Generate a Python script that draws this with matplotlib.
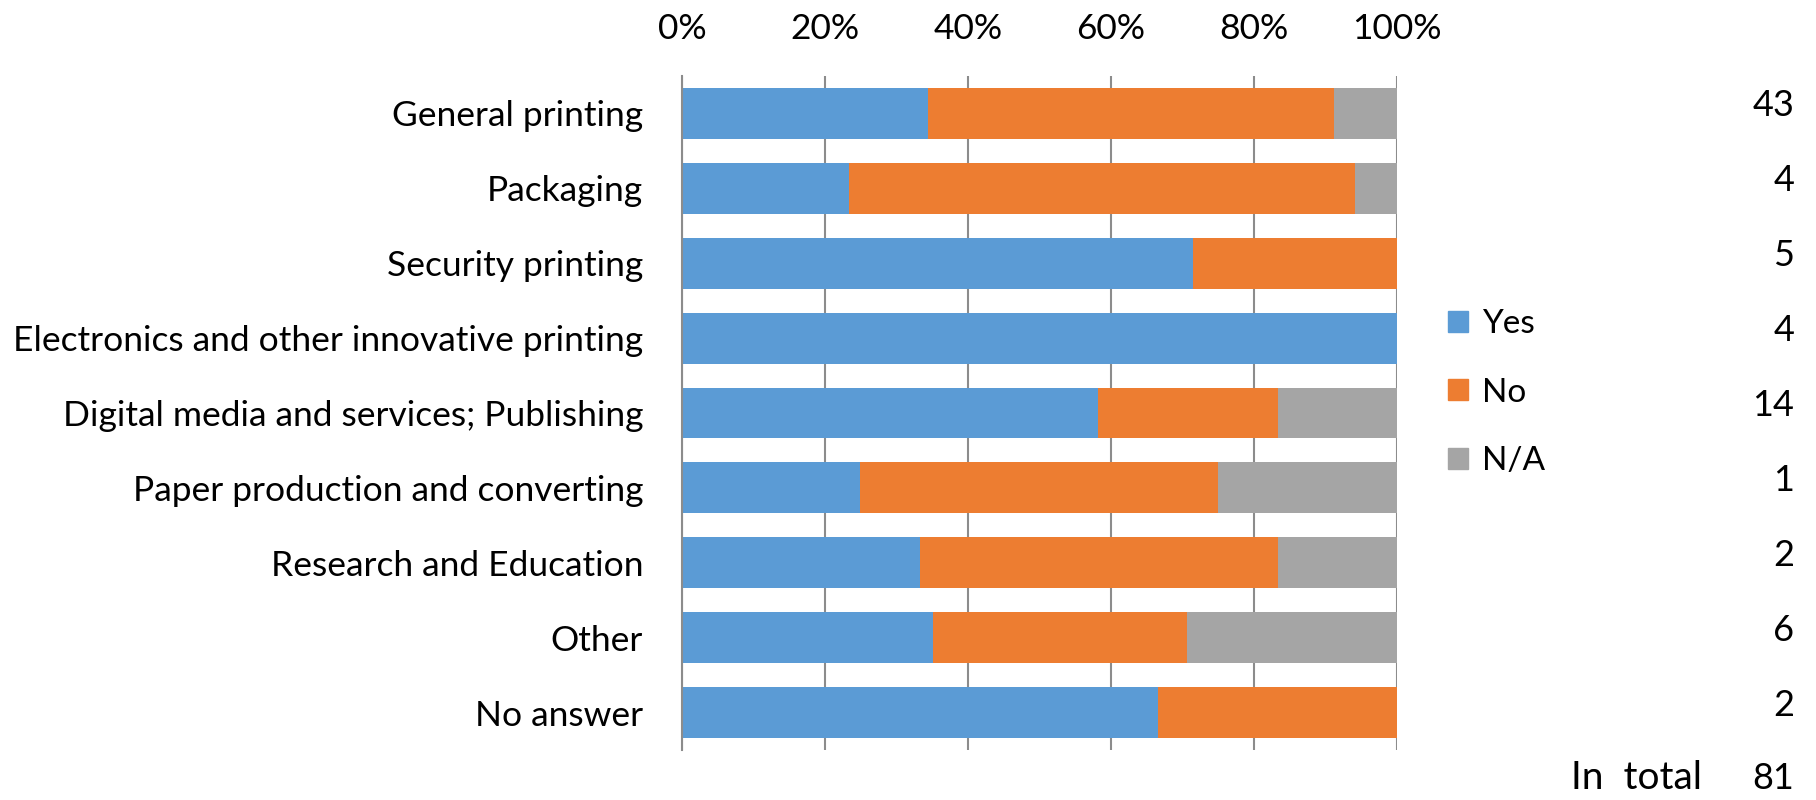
import matplotlib.pyplot as plt
from matplotlib.transforms import blended_transform_factory
from matplotlib.patches import Patch

plt.rcParams['font.family'] = ['Lato', 'DejaVu Sans']

categories = ['General printing', 'Packaging', 'Security printing',
              'Electronics and other innovative printing',
              'Digital media and services; Publishing',
              'Paper production and converting', 'Research and Education',
              'Other', 'No answer']
yes = [34.4, 23.4, 71.4, 100.0, 58.2, 24.9, 33.3, 35.1, 66.6]
no = [56.8, 70.7, 28.6, 0.0, 25.1, 50.0, 50.0, 35.5, 33.4]
na = [8.8, 5.9, 0.0, 0.0, 16.7, 25.1, 16.7, 29.4, 0.0]
counts = [43, 4, 5, 4, 14, 1, 2, 6, 2]
total = 81
series_names = ['Yes', 'No', 'N/A']
colors = ['#5B9BD5', '#ED7D31', '#A5A5A5']

fig = plt.figure(figsize=(18.16, 8), dpi=100)
ax = fig.add_axes([0.3756, 0.0625, 0.3937, 0.8425])

y = list(range(len(categories)))
left = [0] * len(categories)
for vals, c in zip([yes, no, na], colors):
    ax.barh(y, vals, left=left, height=0.68, color=c, zorder=2)
    left = [l + v for l, v in zip(left, vals)]

ax.set_xlim(0, 100)
ax.set_ylim(len(categories) - 0.5, -0.5)
ax.set_yticks(y)
ax.set_yticklabels(categories, fontsize=25.5)
ax.set_xticks([0, 20, 40, 60, 80, 100])
ax.set_xticklabels(['0%', '20%', '40%', '60%', '80%', '100%'], fontsize=25.5)
ax.xaxis.tick_top()
ax.tick_params(axis='x', length=0, pad=22)
ax.tick_params(axis='y', length=0, pad=28)
ax.grid(axis='x', color='#8C8C8C', linewidth=1.5, zorder=1)
for s in ['top', 'right', 'bottom']:
    ax.spines[s].set_visible(False)
ax.spines['left'].set_color('#8C8C8C')
ax.spines['left'].set_linewidth(1.5)

tr = blended_transform_factory(fig.transFigure, ax.transData)
for yi, n in zip(y, counts):
    ax.text(0.988, yi - 0.1, str(n), transform=tr, ha='right', va='center',
            fontsize=26, clip_on=False)
ax.text(0.988, 8.88, str(total), transform=tr, ha='right', va='center',
        fontsize=26, clip_on=False)
ax.text(0.937, 8.88, 'In  total', transform=tr, ha='right', va='center',
        fontsize=28, clip_on=False)

handles = [Patch(color=c, label=s) for c, s in zip(colors, series_names)]
fig.legend(handles=handles, loc='upper left', bbox_to_anchor=(0.781, 0.651),
           frameon=False, fontsize=24, handlelength=0.6, handleheight=0.6,
           handletextpad=0.4, labelspacing=1.15)

fig.savefig('out.png', dpi=100)
